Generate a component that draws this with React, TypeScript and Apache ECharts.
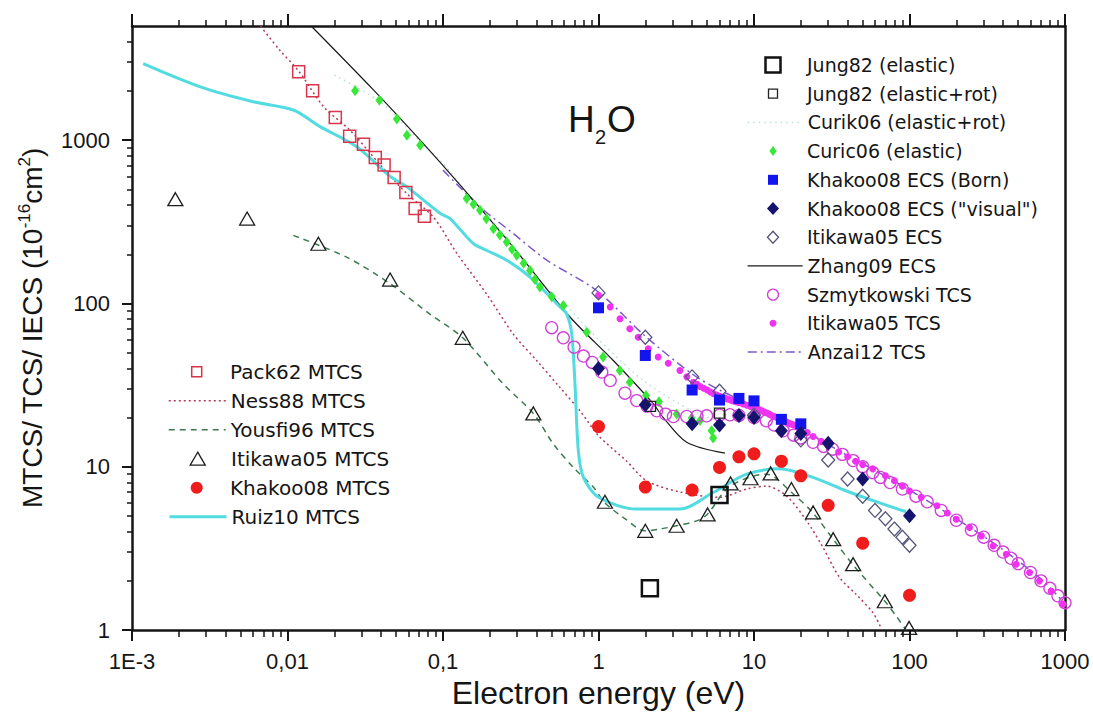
import React, { useEffect, useRef } from 'react';
import * as echarts from 'echarts';

// ---------- axis ticks ----------
const xTickValues = [0.001, 0.01, 0.1, 1, 10, 100, 1000];
const xTickLabels = ['1E-3', '0,01', '0,1', '1', '10', '100', '1000'];
const yTickValues = [1, 10, 100, 1000];
const yTickLabels = ['1', '10', '100', '1000'];
const minorMultipliers = [2, 3, 4, 5, 6, 7, 8, 9];

// ---------- data: [electron energy (eV), cross section (1e-16 cm2)] ----------
const jung82Elastic = [[2.14, 1.8], [6.0, 6.7]];
const jung82ElasticRot = [[2.16, 23.4], [6.0, 21.3]];
const curik06ElasticRot = [[0.02, 2500], [0.04, 1700], [0.07, 1000], [0.1, 720], [0.15, 450], [0.25, 260], [0.4, 140], [0.6, 100], [1, 60], [2, 33], [4, 22], [6, 19]];
const curic06Elastic = [[0.0272, 2006], [0.039, 1758], [0.0505, 1346], [0.0586, 1073], [0.0713, 931], [0.142, 439], [0.157, 405], [0.173, 372], [0.19, 330], [0.211, 287], [0.232, 262], [0.257, 238], [0.278, 215], [0.298, 197], [0.33, 176], [0.363, 159], [0.39, 140], [0.42, 126], [0.5, 110], [0.594, 97], [0.84, 66.7], [1.07, 46.9], [1.37, 38.8], [1.59, 32.9], [2.02, 27.3], [2.45, 25.0], [3.18, 21.0], [3.97, 19.9], [4.5, 19.2], [5.34, 16.6], [5.46, 15.0]];
const khakoo08EcsBorn = [[1, 94], [2, 48], [4, 29.5], [6, 25.6], [8, 26.2], [10, 25.3], [15, 19.5], [20, 18.3]];
const khakoo08EcsVisual = [[1, 40], [2, 24], [4, 18.3], [6, 18], [8, 20.6], [10, 20], [15, 16.6], [20, 16], [30, 13.9], [50, 8.4], [100, 5.0]];
const itikawa05Ecs = [[1, 116], [2, 62], [4, 35.5], [6, 29], [10, 20.7], [20, 14.6], [30, 11], [40, 8.4], [50, 6.6], [60, 5.4], [70, 4.8], [80, 4.15], [90, 3.7], [100, 3.3]];
const zhang09Ecs = [[0.0142, 5000], [0.0357, 2030], [0.0713, 1000], [0.129, 530], [0.283, 221], [0.66, 82], [1.245, 44.7], [2.25, 24.3], [2.61, 20], [3.69, 14.1], [6.5, 12.1]];
const szmytkowskiTcs = [[0.5, 71], [0.594, 61.6], [0.696, 54], [0.8, 47.6], [0.912, 43.5], [1.05, 38], [1.19, 33.7], [1.48, 28.2], [1.76, 25.4], [2.05, 23.5], [2.37, 22], [2.7, 21], [3.03, 20.3], [3.69, 20.3], [4.3, 20.4], [4.96, 20.5], [6, 20.7], [7, 20.8], [8, 20.6], [10, 20], [12, 19.1], [13.5, 18], [15.4, 16.6], [18, 15.6], [20, 15], [24, 14.1], [28, 13.3], [32, 12.8], [37, 11.9], [43.4, 10.9], [50, 10], [58, 9.2], [65, 8.6], [75, 8.0], [90, 7.3], [110, 6.6], [130, 6.1], [160, 5.4], [200, 4.7], [250, 4.1], [300, 3.7], [350, 3.3], [400, 3.0], [450, 2.75], [500, 2.55], [600, 2.25], [700, 2.0], [800, 1.8], [900, 1.62], [1000, 1.47]];
const itikawa05Tcs = [[1, 112], [1.19, 95], [1.375, 80.5], [1.59, 70], [1.8, 62], [2.09, 52.7], [2.42, 47], [2.81, 43], [3.34, 38.8], [3.7, 35.5], [4.07, 32.9], [4.3, 32], [4.5, 31], [4.75, 30.2], [5, 29.5], [5.25, 28.7], [5.5, 28], [5.75, 27.5], [6, 27], [6.25, 26.6], [6.5, 26.3], [6.75, 26], [7, 25.7], [7.25, 25.4], [7.5, 25.2], [7.75, 24.9], [8, 24.7], [8.5, 24.2], [9, 23.8], [9.5, 23.4], [10, 23], [10.5, 22.6], [11, 22.2], [11.5, 21.8], [12, 21.4], [12.5, 21], [13, 20.6], [13.5, 20.3], [14, 20], [14.5, 19.7], [15, 19.4], [15.5, 19.1], [16, 18.9], [16.5, 18.6], [17, 18.4], [17.5, 18.2], [18, 18], [19, 17.6], [20, 17.2], [22, 16.2], [24, 15.3], [27, 14.3], [30, 13.4], [35, 12.3], [40, 11.5], [45, 10.8], [50, 10.3], [58, 9.7], [70, 8.8], [80, 8.2], [90, 7.6], [100, 7.1], [119, 6.5], [150, 5.76], [175, 5.2], [200, 4.77], [243, 4.24], [290, 3.77], [345, 3.27], [419, 2.91], [485, 2.53], [591, 2.25], [685, 2.0], [814, 1.73], [972, 1.44]];
const anzai12Tcs = [[0.1, 655], [0.173, 390], [0.283, 268], [0.465, 184], [0.97, 120], [2, 63], [4, 37], [6, 29.5], [10, 23.5], [20, 17], [40, 11.7], [60, 9.5], [100, 7.2], [200, 4.8], [400, 3.1], [700, 2.05], [1000, 1.45]];
const pack62Mtcs = [[0.0118, 2625], [0.0145, 2006], [0.0203, 1378], [0.0251, 1058], [0.0308, 944], [0.0367, 783], [0.0418, 703], [0.0485, 590], [0.0577, 478], [0.0662, 381], [0.0759, 342]];
const ness88Mtcs = [[0.0067, 5000], [0.0089, 3560], [0.0118, 2650], [0.0171, 1600], [0.0252, 1150], [0.0398, 700], [0.0586, 470], [0.0867, 338], [0.123, 202], [0.191, 114], [0.283, 65], [0.4, 44.7], [0.566, 30.5], [0.76, 22], [1.0, 15.5], [1.52, 10.8], [2.04, 8.2], [3.34, 7.0], [6.04, 6.5], [8.96, 7.3], [12, 7.6], [16.2, 6.6], [21.8, 4.66], [27.8, 3.2], [35.6, 2.09], [45.5, 1.65], [58, 1.28], [65, 1.05]];
const yousfi96Mtcs = [[0.0109, 261], [0.024, 192], [0.0457, 132], [0.0824, 86], [0.134, 61.6], [0.245, 32], [0.381, 21.2], [0.512, 13.8], [0.689, 9.9], [0.926, 7.5], [1.1, 6.0], [1.44, 4.9], [2, 4.05], [2.48, 4.15], [3.18, 4.35], [4.27, 4.66], [5, 5.1], [7, 7.6], [12, 9.0], [17.9, 6.8], [24, 5.2], [32.3, 3.6], [43.4, 2.5], [69.4, 1.5], [82, 1.22], [95, 1.0]];
const itikawa05Mtcs = [[0.0019, 435], [0.0055, 331], [0.0158, 232], [0.0457, 140], [0.134, 61.6], [0.381, 21.2], [1.1, 6.1], [2, 4.05], [3.18, 4.35], [5.03, 5.1], [7.07, 7.9], [9.5, 8.5], [12.8, 9.1], [17.4, 7.3], [24, 5.25], [32.3, 3.6], [43.4, 2.53], [69.4, 1.5], [99.4, 1.03]];
const khakoo08Mtcs = [[1, 17.6], [2, 7.5], [4, 7.2], [6, 9.9], [8, 11.5], [10, 12], [15, 10.8], [20, 8.8], [30, 5.8], [50, 3.4], [100, 1.63]];
const ruiz10Mtcs = [[0.00118, 2940], [0.00275, 2120], [0.006, 1720], [0.0109, 1530], [0.0162, 1210], [0.0279, 910], [0.0457, 600], [0.0586, 517], [0.0962, 355], [0.111, 331], [0.157, 232], [0.191, 211], [0.257, 184], [0.363, 145], [0.566, 95], [0.625, 86], [0.673, 65], [0.706, 32], [0.742, 12.5], [0.8, 8.6], [1, 6.5], [1.76, 5.5], [3.34, 5.5], [5.46, 6.95], [8.96, 9.0], [14.6, 9.7], [23.9, 8.6], [39.3, 7.1], [64.3, 6.0], [95, 5.3]];

const FONT_AXIS = '"Liberation Sans", Arial, sans-serif';
const FONT_LEG = '"DejaVu Sans", sans-serif';
const INK = '#151515';

// legend icon shapes: [path, width/height of the drawn shape]
const ICON_RECT: [string, number] = ['path://M0,0L10,0L10,10L0,10Z', 1];
const ICON_DIAMOND: [string, number] = ['path://M5,0L10,5.4L5,10.8L0,5.4Z', 10 / 10.8];
const ICON_DIAMOND_NARROW: [string, number] = ['path://M4,0L8,5.5L4,11L0,5.5Z', 8 / 11];
const ICON_TRIANGLE: [string, number] = ['path://M5.5,0L11,9.5L0,9.5Z', 1];
const ICON_CIRCLE: [string, number] = ['circle', 1];

function minorTicks(minExp: number, maxExp: number, maxVal: number) {
  const out: number[] = [];
  for (let e = minExp; e < maxExp; e++) {
    for (const m of minorMultipliers) {
      const v = +(m * Math.pow(10, e)).toPrecision(6);
      if (v < maxVal) out.push(v);
    }
  }
  return out;
}

type LineDef = { kind: 'line'; name: string; data: number[][]; color: string; width: number; dash: any; smooth: number };
type SymDef = { kind: 'symbol'; name: string; data: number[][]; symbol: string; size: any; fill: string; border: string; bw: number; legendSize: number; icon: [string, number] };
type Def = LineDef | SymDef;

const defs: Record<string, Def> = {
  ness: { kind: 'line', name: 'Ness88 MTCS', data: ness88Mtcs, color: '#b03a58', width: 1.5, dash: [2, 3], smooth: 0.3 },
  yousfi: { kind: 'line', name: 'Yousfi96 MTCS', data: yousfi96Mtcs, color: '#3c7a50', width: 1.5, dash: [6, 5], smooth: 0.3 },
  curik: { kind: 'line', name: 'Curik06 (elastic+rot)', data: curik06ElasticRot, color: '#b9ded6', width: 1.5, dash: [1.5, 4], smooth: 0.3 },
  anzai: { kind: 'line', name: 'Anzai12 TCS', data: anzai12Tcs, color: '#7d56c8', width: 1.5, dash: [9, 4, 2, 4], smooth: 0.3 },
  zhang: { kind: 'line', name: 'Zhang09 ECS', data: zhang09Ecs, color: '#1a1a1a', width: 1.2, dash: 'solid', smooth: 0.3 },
  ruiz: { kind: 'line', name: 'Ruiz10 MTCS', data: ruiz10Mtcs, color: '#52dbe0', width: 3, dash: 'solid', smooth: 0.3 },
  pack: { kind: 'symbol', name: 'Pack62 MTCS', data: pack62Mtcs, symbol: 'rect', size: 12, fill: 'rgba(255,255,255,0)', border: '#d8344c', bw: 1.5, legendSize: 10, icon: ICON_RECT },
  itiM: { kind: 'symbol', name: 'Itikawa05 MTCS', data: itikawa05Mtcs, symbol: 'triangle', size: [15, 13], fill: 'rgba(255,255,255,0)', border: '#1e1e1e', bw: 1.3, legendSize: 13, icon: ICON_TRIANGLE },
  khaM: { kind: 'symbol', name: 'Khakoo08 MTCS', data: khakoo08Mtcs, symbol: 'circle', size: 13, fill: '#f01c1c', border: '#f01c1c', bw: 0, legendSize: 12, icon: ICON_CIRCLE },
  curic: { kind: 'symbol', name: 'Curic06 (elastic)', data: curic06Elastic, symbol: 'diamond', size: [8, 11], fill: '#37e837', border: '#37e837', bw: 0, legendSize: 10, icon: ICON_DIAMOND_NARROW },
  szmy: { kind: 'symbol', name: 'Szmytkowski TCS', data: szmytkowskiTcs, symbol: 'circle', size: 12, fill: 'rgba(255,255,255,0)', border: '#d040d8', bw: 1.3, legendSize: 11, icon: ICON_CIRCLE },
  itiT: { kind: 'symbol', name: 'Itikawa05 TCS', data: itikawa05Tcs, symbol: 'circle', size: 7, fill: '#f032f0', border: '#f032f0', bw: 0, legendSize: 7, icon: ICON_CIRCLE },
  itiE: { kind: 'symbol', name: 'Itikawa05 ECS', data: itikawa05Ecs, symbol: 'diamond', size: [13, 14], fill: 'rgba(255,255,255,0)', border: '#55557a', bw: 1.3, legendSize: 12, icon: ICON_DIAMOND },
  khaB: { kind: 'symbol', name: 'Khakoo08 ECS (Born)', data: khakoo08EcsBorn, symbol: 'rect', size: 11, fill: '#1414ee', border: '#1414ee', bw: 0, legendSize: 10, icon: ICON_RECT },
  khaV: { kind: 'symbol', name: 'Khakoo08 ECS ("visual")', data: khakoo08EcsVisual, symbol: 'diamond', size: [13, 15], fill: '#14146e', border: '#14146e', bw: 0, legendSize: 13, icon: ICON_DIAMOND },
  jungR: { kind: 'symbol', name: 'Jung82 (elastic+rot)', data: jung82ElasticRot, symbol: 'rect', size: 10, fill: 'rgba(255,255,255,0)', border: '#222', bw: 1.3, legendSize: 9, icon: ICON_RECT },
  jungE: { kind: 'symbol', name: 'Jung82 (elastic)', data: jung82Elastic, symbol: 'rect', size: 16, fill: 'rgba(255,255,255,0)', border: '#111', bw: 2.5, legendSize: 15, icon: ICON_RECT },
};

const drawOrder = ['curik', 'ness', 'yousfi', 'anzai', 'zhang', 'ruiz', 'pack', 'itiM', 'khaM', 'curic', 'szmy', 'itiT', 'itiE', 'khaB', 'khaV', 'jungR', 'jungE'];
const upperLegendKeys = ['jungE', 'jungR', 'curik', 'curic', 'khaB', 'khaV', 'itiE', 'zhang', 'szmy', 'itiT', 'anzai'];
const lowerLegendKeys = ['pack', 'ness', 'yousfi', 'itiM', 'khaM', 'ruiz'];

function buildSeries() {
  return drawOrder.map((k, i) => {
    const d = defs[k];
    if (d.kind === 'line') {
      return {
        name: d.name, type: 'line', data: d.data, symbol: 'none', smooth: d.smooth,
        lineStyle: { color: d.color, width: d.width, type: d.dash }, itemStyle: { color: d.color },
        z: 2, silent: true, clip: true,
      };
    }
    return {
      name: d.name, type: 'scatter', data: d.data, symbol: d.symbol, symbolSize: d.size,
      itemStyle: { color: d.fill, borderColor: d.border, borderWidth: d.bw, opacity: 1 },
      z: 3 + i, silent: true,
    };
  });
}

// iconCx: centre of the legend marker; textX: start of the legend text
function buildLegend(k: string, iconCx: number, lineLeft: number, textX: number, yc: number, fs: number) {
  const d = defs[k];
  const base = {
    orient: 'horizontal', padding: 0, itemGap: 0, selectedMode: false, symbolKeepAspect: true,
    textStyle: { fontFamily: FONT_LEG, fontSize: fs, color: INK, lineHeight: 22 },
  };
  if (d.kind === 'line') {
    return {
      ...base, data: [d.name], left: lineLeft, top: yc - 11, itemWidth: textX - 5 - lineLeft, itemHeight: 14,
      itemStyle: { opacity: 0 },
      lineStyle: { color: d.color, width: d.width, type: d.dash },
    };
  }
  const h = d.legendSize;
  const iconW = h * Math.min(1, d.icon[1]) + d.bw;
  const W = 2 * (textX - 5 - iconCx);
  return {
    ...base, data: [{ name: d.name, icon: d.icon[0] }], left: iconCx - iconW / 2, top: yc - 11, itemWidth: W, itemHeight: h,
    itemStyle: { color: d.fill, borderColor: d.border, borderWidth: d.bw, opacity: 1 },
  };
}

function labelFor(values: number[], labels: string[]) {
  return (v: number) => {
    const e = Math.round(Math.log10(v));
    const idx = values.findIndex((t) => Math.round(Math.log10(t)) === e);
    return idx >= 0 ? labels[idx] : '';
  };
}

export default function App() {
  const ref = useRef<HTMLDivElement>(null);
  useEffect(() => {
    if (!ref.current) return;
    const chart = echarts.init(ref.current, null, { renderer: 'svg' });
    const axisLine = { show: true, onZero: false, lineStyle: { color: INK, width: 2.5 } };
    const xMinor = minorTicks(-3, 3, 1000);
    const yMinor = minorTicks(0, 4, 5000);
    const xBase = { type: 'log', logBase: 10, min: 0.001, max: 1000, splitLine: { show: false } };
    const yBase = { type: 'log', logBase: 10, min: 1, max: 5000, splitLine: { show: false } };

    const legends = [
      ...upperLegendKeys.map((k, i) => buildLegend(k, 773, 747, 807, 65 + 28.7 * i, 19)),
      ...lowerLegendKeys.map((k, i) => buildLegend(k, 196.7, 168, 230, 371.7 + 29 * i, 20)),
    ];

    const option = {
      animation: false,
      backgroundColor: '#ffffff',
      grid: { left: 132, right: 28, top: 26, bottom: 94, containLabel: false },
      legend: legends,
      xAxis: [
        {
          ...xBase, position: 'bottom', axisLine,
          axisTick: { show: true, inside: false, length: 11, customValues: xTickValues, lineStyle: { color: INK, width: 2 } },
          axisLabel: { show: true, customValues: xTickValues, formatter: labelFor(xTickValues, xTickLabels), margin: 20, fontSize: 22, fontFamily: FONT_AXIS, color: INK },
          name: 'Electron energy (eV)', nameLocation: 'middle', nameGap: 33,
          nameTextStyle: { fontSize: 32, fontFamily: FONT_AXIS, color: INK },
        },
        {
          ...xBase, position: 'bottom', axisLine: { show: false },
          axisTick: { show: true, inside: false, length: 7, customValues: xMinor, lineStyle: { color: INK, width: 1.5 } },
          axisLabel: { show: false },
        },
        {
          ...xBase, position: 'top', axisLine,
          axisTick: { show: true, inside: false, length: 12, customValues: xTickValues, lineStyle: { color: INK, width: 2 } },
          axisLabel: { show: false },
        },
        {
          ...xBase, position: 'top', axisLine: { show: false },
          axisTick: { show: true, inside: false, length: 6, customValues: xMinor, lineStyle: { color: INK, width: 1.5 } },
          axisLabel: { show: false },
        },
      ],
      yAxis: [
        {
          ...yBase, position: 'left', axisLine,
          axisTick: { show: true, inside: false, length: 10, customValues: yTickValues, lineStyle: { color: INK, width: 2 } },
          axisLabel: { show: true, customValues: yTickValues, formatter: labelFor(yTickValues, yTickLabels), margin: 22, fontSize: 22, fontFamily: FONT_AXIS, color: INK },
          name: '{a|MTCS/ TCS/ IECS (10}{s|-16}{a|cm}{s|2}{a|)}',
          nameLocation: 'middle', nameGap: 84, nameRotate: 90,
          nameTextStyle: {
            color: INK, fontFamily: FONT_AXIS,
            rich: {
              a: { fontSize: 28, lineHeight: 32, fontFamily: FONT_AXIS, color: INK },
              s: { fontSize: 17, lineHeight: 17, verticalAlign: 'top', fontFamily: FONT_AXIS, color: INK },
            },
          },
        },
        {
          ...yBase, position: 'left', axisLine: { show: false },
          axisTick: { show: true, inside: false, length: 5, customValues: yMinor, lineStyle: { color: INK, width: 1.5 } },
          axisLabel: { show: false },
        },
        {
          ...yBase, position: 'right', axisLine,
          axisTick: { show: false }, axisLabel: { show: false },
        },
      ],
      graphic: [
        { type: 'text', left: 568, top: 101, style: { text: 'H', fontSize: 37, fontFamily: FONT_AXIS, fill: INK } },
        { type: 'text', left: 595, top: 127, style: { text: '2', fontSize: 20, fontFamily: FONT_AXIS, fill: INK } },
        { type: 'text', left: 607, top: 101, style: { text: 'O', fontSize: 37, fontFamily: FONT_AXIS, fill: INK } },
      ],
      series: buildSeries(),
    };
    chart.setOption(option as any);
    return () => chart.dispose();
  }, []);
  return (
    <div
      ref={ref}
      style={{ position: 'absolute', left: 0, top: 0, width: 1093, height: 724, background: '#fff' }}
    />
  );
}
